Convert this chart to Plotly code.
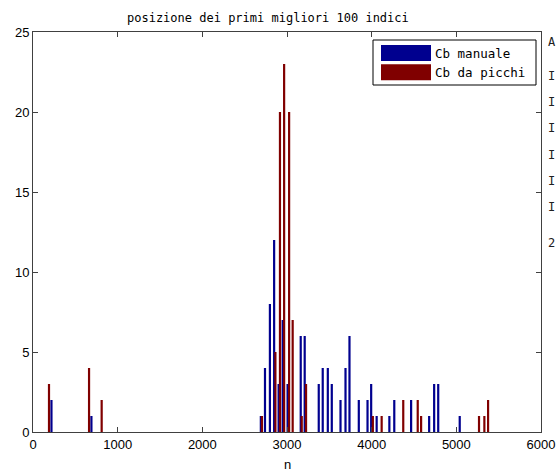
import plotly.graph_objects as go

# Position (n) and count of the best 100 indices for each method
manuale_n = [218, 690, 2691, 2740, 2798, 2848, 2901, 2949, 3007, 3162, 3209,
             3375, 3422, 3482, 3529, 3632, 3691, 3738, 3848, 3951, 3994, 4059,
             4209, 4267, 4466, 4679, 4738, 4786, 5040]
manuale_count = [2, 1, 1, 4, 8, 12, 3, 7, 3, 6, 6,
                 3, 4, 4, 3, 2, 4, 6, 2, 2, 3, 1,
                 1, 2, 2, 1, 3, 3, 1]

picchi_n = [189, 662, 811, 2704, 2863, 2917, 2966, 3025, 3067, 3174, 3225,
            4014, 4118, 4373, 4544, 4584, 5268, 5331, 5375]
picchi_count = [3, 4, 2, 1, 5, 20, 23, 20, 7, 1, 3,
                1, 1, 2, 2, 1, 1, 1, 2]

series_names = ["Cb manuale", "Cb da picchi"]
series_colors = ["#00008f", "#800000"]

x_ticks = [0, 1000, 2000, 3000, 4000, 5000, 6000]
y_ticks = [0, 5, 10, 15, 20, 25]

title_text = "posizione dei primi migliori 100 indici"
x_label = "n"

# start of a neighbouring text column at the right border
side_chars = ["A", "I", "I", "I", "I", "I", "I", "2"]
side_rows = [42, 76, 102, 128, 155, 181, 207, 243]

W, H = 557, 475
L, R, T, B = 33, 16, 32, 43
plot_w = W - L - R
plot_h = H - T - B


def px_x(p):
    return (p - L) / plot_w


def px_y(p):
    return (H - B - p) / plot_h


fig = go.Figure()
for xs, ys, name, col in [(manuale_n, manuale_count, series_names[0], series_colors[0]),
                          (picchi_n, picchi_count, series_names[1], series_colors[1])]:
    fig.add_trace(go.Bar(x=xs, y=ys, name=name, width=26,
                         marker=dict(color=col, line=dict(width=0)),
                         showlegend=False))

axis_common = dict(showline=True, linecolor="#404040", linewidth=1, mirror="ticks",
                   ticks="inside", ticklen=5, tickcolor="#404040", showgrid=False,
                   zeroline=False, automargin=False,
                   tickfont=dict(family="Liberation Sans", size=13, color="#000000"))

fig.update_layout(
    width=W, height=H,
    margin=dict(l=L, r=R, t=T, b=B, pad=0, autoexpand=False),
    paper_bgcolor="white", plot_bgcolor="white",
    barmode="overlay",
    xaxis=dict(range=[0, 6000], tickvals=x_ticks, **axis_common),
    yaxis=dict(range=[0, 25], tickvals=y_ticks, **axis_common),
)

mono = "DejaVu Sans Mono"

# title and axis label
fig.add_annotation(text=title_text, xref="paper", yref="paper",
                   x=px_x(267.5), y=px_y(18), xanchor="center", yanchor="middle",
                   showarrow=False, font=dict(family=mono, size=12, color="#000000"))
fig.add_annotation(text=x_label, xref="paper", yref="paper",
                   x=px_x(287), y=px_y(464), xanchor="center", yanchor="middle",
                   showarrow=False, font=dict(family="Liberation Sans", size=13, color="#000000"))

# legend box with wide colour swatches
fig.add_shape(type="rect", xref="paper", yref="paper",
              x0=px_x(373), x1=px_x(536), y0=px_y(85), y1=px_y(40),
              line=dict(color="#000000", width=1), fillcolor="white", layer="above")
for i, (name, col) in enumerate(zip(series_names, series_colors)):
    top = 45 + i * 19.3
    fig.add_shape(type="rect", xref="paper", yref="paper",
                  x0=px_x(381), x1=px_x(431), y0=px_y(top + 16), y1=px_y(top),
                  line=dict(width=0), fillcolor=col, layer="above")
    fig.add_annotation(text=name, xref="paper", yref="paper",
                       x=px_x(433), y=px_y(top + 8), xanchor="left", yanchor="middle",
                       showarrow=False, font=dict(family=mono, size=12.5, color="#000000"))

# text column cut by the right border
for ch, row in zip(side_chars, side_rows):
    fig.add_annotation(text=ch, xref="paper", yref="paper",
                       x=px_x(546), y=px_y(row), xanchor="left", yanchor="middle",
                       showarrow=False, font=dict(family=mono, size=12, color="#202020"))

fig.write_html("out.html")
